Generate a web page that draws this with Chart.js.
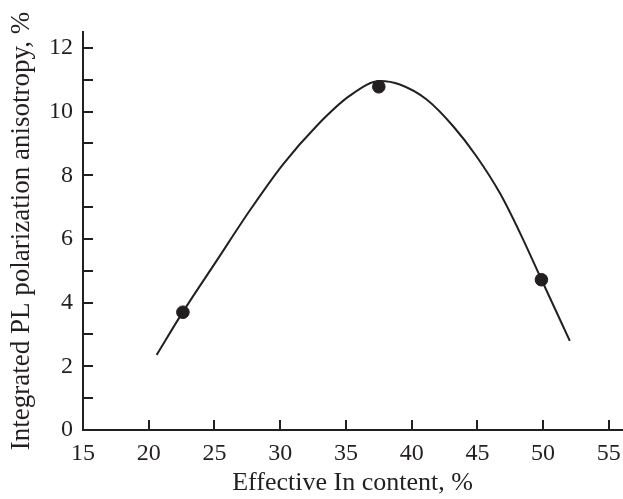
<!DOCTYPE html>
<html>
<head>
<meta charset="utf-8">
<script src="https://cdn.jsdelivr.net/npm/chart.js@4.4.1/dist/chart.umd.min.js"></script>
<style>
  html, body { margin: 0; padding: 0; background: #fff; }
  #wrap { width: 623px; height: 499px; }
</style>
</head>
<body>
<div id="wrap"><canvas id="chart"></canvas></div>
<script>
// measured points (In content %, anisotropy %)
const pointX = [22.6, 37.5, 49.87];
const pointY = [3.7, 10.78, 4.72];

// guide curve
const curveX = [20.6, 22.6, 25.17, 27.7, 30.23, 32.77, 35.3, 37.6, 39.1, 41.14, 43.16, 44.94, 46.71, 48.23, 49.88, 52.03];
const curveY = [2.36, 3.71, 5.32, 6.9, 8.35, 9.55, 10.5, 10.96, 10.85, 10.38, 9.54, 8.59, 7.44, 6.2, 4.72, 2.8];

const xTicks = [15, 20, 25, 30, 35, 40, 45, 50, 55];
const yTicks = [0, 2, 4, 6, 8, 10, 12];
const yMinorTicks = [1, 3, 5, 7, 9, 11];

const INK = '#231f20';
const FONT = 'Liberation Serif, Times New Roman, serif';

// tick marks drawn inward from the axes
const inwardTicks = {
  id: 'inwardTicks',
  afterDatasetsDraw(chart) {
    const { ctx, chartArea, scales } = chart;
    ctx.save();
    ctx.strokeStyle = INK;
    ctx.lineWidth = 2;
    ctx.beginPath();
    for (const v of xTicks) {
      if (v === 15) continue;
      const px = Math.round(scales.x.getPixelForValue(v));
      ctx.moveTo(px, chartArea.bottom);
      ctx.lineTo(px, chartArea.bottom - 10);
    }
    for (const v of yTicks.concat(yMinorTicks)) {
      if (v === 0) continue;
      const py = Math.round(scales.y.getPixelForValue(v));
      ctx.moveTo(chartArea.left, py);
      ctx.lineTo(chartArea.left + 10, py);
    }
    ctx.stroke();
    ctx.restore();
  }
};

new Chart(document.getElementById('chart'), {
  type: 'scatter',
  data: {
    datasets: [
      {
        type: 'line',
        data: curveX.map((x, i) => ({ x, y: curveY[i] })),
        borderColor: INK,
        borderWidth: 2,
        pointRadius: 0,
        cubicInterpolationMode: 'monotone',
        fill: false
      },
      {
        data: pointX.map((x, i) => ({ x, y: pointY[i] })),
        backgroundColor: INK,
        borderColor: INK,
        pointRadius: 6.3,
        showLine: false
      }
    ]
  },
  options: {
    responsive: true,
    maintainAspectRatio: false,
    animation: false,
    layout: { autoPadding: false, padding: { top: 32, right: 1, left: 0, bottom: 0 } },
    plugins: { legend: { display: false }, tooltip: { enabled: false } },
    scales: {
      x: {
        type: 'linear',
        min: 15,
        max: 56,
        grid: { display: false },
        border: { display: true, color: INK, width: 2 },
        afterBuildTicks: s => { s.ticks = xTicks.map(v => ({ value: v })); },
        afterFit: s => { s.height = 69; s.paddingLeft = 0; s.paddingRight = 0; },
        ticks: { color: INK, font: { family: FONT, size: 24 }, padding: 1, maxRotation: 0 },
        title: {
          display: true,
          text: 'Effective In content, %',
          color: INK,
          font: { family: FONT, size: 26 },
          padding: { top: 0, bottom: 0 }
        }
      },
      y: {
        type: 'linear',
        min: 0,
        max: 12.5,
        grid: { display: false },
        border: { display: true, color: INK, width: 2 },
        afterBuildTicks: s => { s.ticks = yTicks.map(v => ({ value: v })); },
        afterFit: s => { s.width = 83; s.paddingTop = 0; s.paddingBottom = 0; },
        ticks: { color: INK, font: { family: FONT, size: 24 }, padding: 2 },
        title: {
          display: true,
          text: 'Integrated PL polarization anisotropy, %',
          color: INK,
          font: { family: FONT, size: 27 },
          padding: { top: 6, bottom: 0 }
        }
      }
    }
  },
  plugins: [inwardTicks]
});
</script>
</body>
</html>
